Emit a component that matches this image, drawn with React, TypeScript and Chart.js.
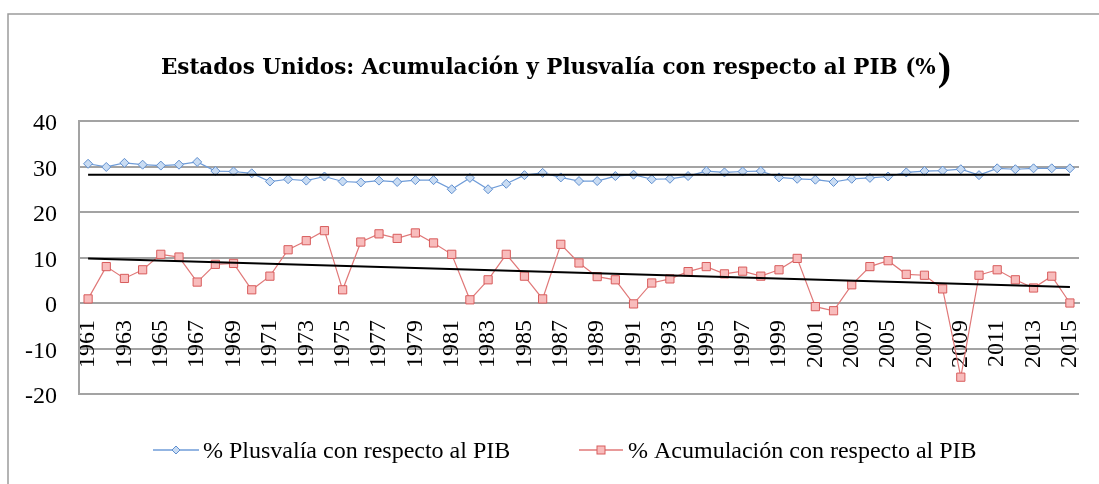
import React, { useEffect, useRef } from "react";
import { Chart, registerables } from "chart.js";

Chart.register(...registerables);

const years = [
  "1961", "1962", "1963", "1964", "1965", "1966", "1967", "1968", "1969", "1970",
  "1971", "1972", "1973", "1974", "1975", "1976", "1977", "1978", "1979", "1980",
  "1981", "1982", "1983", "1984", "1985", "1986", "1987", "1988", "1989", "1990",
  "1991", "1992", "1993", "1994", "1995", "1996", "1997", "1998", "1999", "2000",
  "2001", "2002", "2003", "2004", "2005", "2006", "2007", "2008", "2009", "2010",
  "2011", "2012", "2013", "2014", "2015",
];

const plusvalia = [
  30.6, 29.9, 30.8, 30.4, 30.2, 30.4, 31.0, 29.0, 28.9, 28.5,
  26.7, 27.2, 26.9, 27.8, 26.7, 26.5, 26.9, 26.6, 27.0, 27.0,
  25.0, 27.5, 25.0, 26.2, 28.1, 28.6, 27.6, 26.8, 26.8, 27.9,
  28.2, 27.2, 27.3, 27.9, 29.0, 28.7, 28.9, 29.0, 27.6, 27.3,
  27.1, 26.6, 27.3, 27.5, 27.8, 28.7, 29.0, 29.1, 29.4, 28.1,
  29.6, 29.4, 29.6, 29.6, 29.6,
];

const acumulacion = [
  0.9, 8.0, 5.4, 7.3, 10.7, 10.1, 4.6, 8.5, 8.7, 2.9,
  5.9, 11.7, 13.7, 15.9, 2.9, 13.4, 15.2, 14.2, 15.4, 13.2,
  10.7, 0.7, 5.1, 10.7, 5.9, 0.9, 12.9, 8.8, 5.8, 5.1,
  -0.2, 4.4, 5.3, 6.9, 8.0, 6.4, 7.0, 5.9, 7.3, 9.8,
  -0.8, -1.7, 4.0, 8.0, 9.3, 6.3, 6.1, 3.1, -16.3, 6.1,
  7.3, 5.1, 3.3, 5.9, 0.0,
];

// Linear trend lines: [value at first year, value at last year]
const trendPlusvalia = [28.2, 28.2];
const trendAcumulacion = [9.8, 3.5];

const yTicks = { min: -20, max: 40, step: 10 };

const titleMain = "Estados Unidos: Acumulación y Plusvalía con respecto al PIB (%";
const titleParen = ")";
const legendLabels = [
  "% Plusvalía con respecto al PIB",
  "% Acumulación con respecto al PIB",
];

const BLUE_LINE = "#6f9cd8";
const BLUE_FILL = "#c9dcf3";
const BLUE_BORDER = "#5f8fd0";
const RED_LINE = "#e07878";
const RED_FILL = "#f8bcbc";
const RED_BORDER = "#d85c5c";
const GRID = "#a3a3a3";
const SERIF = "'Liberation Serif', 'DejaVu Serif', serif";
const TITLE_FONT = "'DejaVu Serif', 'Liberation Serif', serif";

function trendData(t: number[]) {
  return years.map((_, i) => (i === 0 ? t[0] : i === years.length - 1 ? t[1] : null));
}

function drawDiamond(ctx: CanvasRenderingContext2D, x: number, y: number, r: number) {
  ctx.beginPath();
  ctx.moveTo(x, y - r);
  ctx.lineTo(x + r, y);
  ctx.lineTo(x, y + r);
  ctx.lineTo(x - r, y);
  ctx.closePath();
  ctx.fillStyle = BLUE_FILL;
  ctx.fill();
  ctx.strokeStyle = BLUE_BORDER;
  ctx.lineWidth = 1;
  ctx.stroke();
}

function drawSquare(ctx: CanvasRenderingContext2D, x: number, y: number, h: number) {
  ctx.fillStyle = RED_FILL;
  ctx.fillRect(x - h, y - h, 2 * h, 2 * h);
  ctx.strokeStyle = RED_BORDER;
  ctx.lineWidth = 1;
  ctx.strokeRect(x - h, y - h, 2 * h, 2 * h);
}

const framePlugin = {
  id: "frame",
  beforeDraw(chart: any) {
    const ctx = chart.ctx as CanvasRenderingContext2D;
    ctx.save();
    ctx.fillStyle = "#ffffff";
    ctx.fillRect(0, 0, chart.width, chart.height);
    ctx.strokeStyle = "#9c9c9c";
    ctx.lineWidth = 1.5;
    ctx.beginPath();
    ctx.moveTo(8, chart.height);
    ctx.lineTo(8, 14);
    ctx.lineTo(chart.width, 14);
    ctx.stroke();
    ctx.restore();
  },
};

const titleLegendPlugin = {
  id: "titleLegend",
  afterDraw(chart: any) {
    const ctx = chart.ctx as CanvasRenderingContext2D;
    ctx.save();
    // Title
    ctx.fillStyle = "#000";
    ctx.textBaseline = "alphabetic";
    ctx.textAlign = "left";
    ctx.font = `bold 21.5px ${TITLE_FONT}`;
    const w1 = ctx.measureText(titleMain).width;
    ctx.font = `bold 40px ${SERIF}`;
    const w2 = ctx.measureText(titleParen).width;
    const cx = 556;
    const startX = cx - (w1 + w2 + 2) / 2;
    ctx.font = `bold 21.5px ${TITLE_FONT}`;
    ctx.fillText(titleMain, startX, 74);
    ctx.font = `bold 40px ${SERIF}`;
    ctx.fillText(titleParen, startX + w1 + 2, 80);

    // Legend
    const ly = 450;
    ctx.font = `24px ${SERIF}`;
    ctx.textBaseline = "middle";
    // item 1
    ctx.strokeStyle = BLUE_LINE;
    ctx.lineWidth = 1.5;
    ctx.beginPath();
    ctx.moveTo(153, ly);
    ctx.lineTo(199, ly);
    ctx.stroke();
    drawDiamond(ctx, 176, ly, 4);
    ctx.fillStyle = "#000";
    ctx.fillText(legendLabels[0], 203, ly + 2);
    // item 2
    ctx.strokeStyle = RED_LINE;
    ctx.lineWidth = 1.5;
    ctx.beginPath();
    ctx.moveTo(579, ly);
    ctx.lineTo(623, ly);
    ctx.stroke();
    drawSquare(ctx, 601, ly, 4);
    ctx.fillStyle = "#000";
    ctx.fillText(legendLabels[1], 628, ly + 2);
    ctx.restore();
  },
};

export default function App() {
  const canvasRef = useRef<HTMLCanvasElement | null>(null);

  useEffect(() => {
    document.body.style.margin = "0";
    const canvas = canvasRef.current;
    if (!canvas) return;
    const chart = new Chart(canvas, {
      type: "line",
      data: {
        labels: years,
        datasets: [
          {
            label: legendLabels[0],
            data: plusvalia,
            borderColor: BLUE_LINE,
            borderWidth: 1.2,
            backgroundColor: BLUE_FILL,
            pointStyle: "rectRot",
            pointRadius: 4.5,
            pointBorderColor: BLUE_BORDER,
            pointBackgroundColor: BLUE_FILL,
            pointBorderWidth: 1,
            tension: 0,
            order: 2,
          },
          {
            label: legendLabels[1],
            data: acumulacion,
            borderColor: RED_LINE,
            borderWidth: 1.2,
            backgroundColor: RED_FILL,
            pointStyle: "rect",
            pointRadius: 5.8,
            pointBorderColor: RED_BORDER,
            pointBackgroundColor: RED_FILL,
            pointBorderWidth: 1,
            tension: 0,
            order: 2,
          },
          {
            label: "Tendencia plusvalía",
            data: trendData(trendPlusvalia),
            borderColor: "#000",
            borderWidth: 2,
            pointRadius: 0,
            spanGaps: true,
            order: 1,
          },
          {
            label: "Tendencia acumulación",
            data: trendData(trendAcumulacion),
            borderColor: "#000",
            borderWidth: 2,
            pointRadius: 0,
            spanGaps: true,
            order: 1,
          },
        ],
      },
      options: {
        responsive: false,
        animation: false,
        events: [],
        layout: { padding: { left: 8, right: 20, top: 121, bottom: 90 } },
        plugins: {
          legend: { display: false },
          title: { display: false },
          tooltip: { enabled: false },
        },
        scales: {
          x: {
            type: "category",
            position: { y: 0 },
            offset: true,
            afterFit: (s: any) => {
              s.paddingLeft = 0;
              s.paddingRight = 0;
            },
            grid: { display: false, drawTicks: false },
            border: { display: true, color: GRID, width: 2 },
            ticks: {
              autoSkip: false,
              minRotation: 90,
              maxRotation: 90,
              padding: 17,
              color: "#000",
              font: { family: SERIF, size: 24 },
              callback: (_v: any, i: number) => (i % 2 === 0 ? years[i] : ""),
            },
          },
          y: {
            min: yTicks.min,
            max: yTicks.max,
            afterFit: (s: any) => {
              s.width = 71;
            },
            grid: { color: GRID, lineWidth: 2, drawTicks: false },
            border: { display: true, color: GRID, width: 2 },
            ticks: {
              stepSize: yTicks.step,
              padding: 22,
              labelOffset: 3,
              color: "#000",
              font: { family: SERIF, size: 24 },
            },
          },
        },
      },
      plugins: [framePlugin, titleLegendPlugin],
    });
    return () => chart.destroy();
  }, []);

  return (
    <div style={{ width: 1099, height: 484 }}>
      <canvas ref={canvasRef} width={1099} height={484} style={{ display: "block" }} />
    </div>
  );
}
